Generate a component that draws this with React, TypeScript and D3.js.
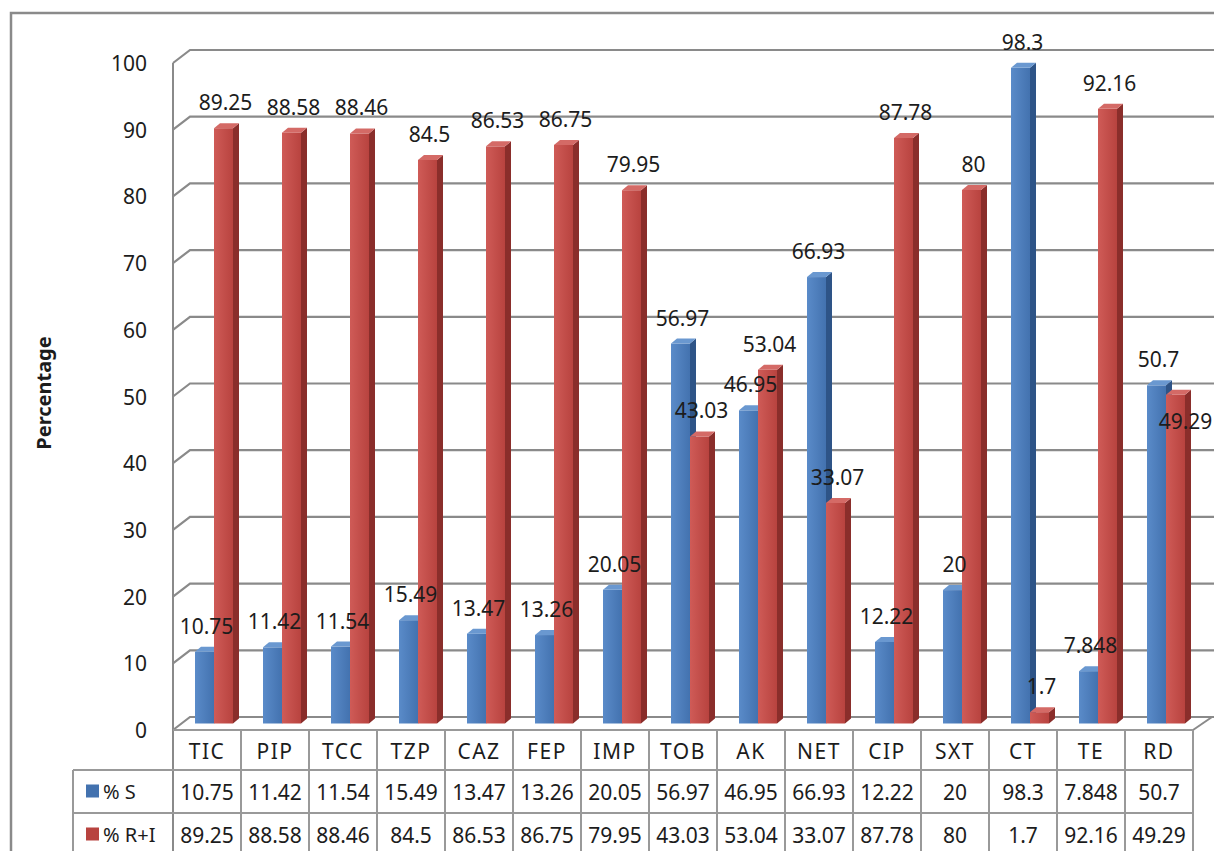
import React from "react";
import * as d3 from "d3";

const categories = ["TIC", "PIP", "TCC", "TZP", "CAZ", "FEP", "IMP", "TOB", "AK", "NET", "CIP", "SXT", "CT", "TE", "RD"];
const sValues = [10.75, 11.42, 11.54, 15.49, 13.47, 13.26, 20.05, 56.97, 46.95, 66.93, 12.22, 20, 98.3, 7.848, 50.7];
const riValues = [89.25, 88.58, 88.46, 84.5, 86.53, 86.75, 79.95, 43.03, 53.04, 33.07, 87.78, 80, 1.7, 92.16, 49.29];
const seriesNames = ["% S", "% R+I"];
const yTicks = [0, 10, 20, 30, 40, 50, 60, 70, 80, 90, 100];
const yTitle = "Percentage";

const W = 1214;
const H = 851;
const FONT = "'Noto Sans', 'Open Sans', sans-serif";

export default function App() {
  const plotLeft = 173;
  const plotRight = 1193;
  const floorFront = 730;
  const topFront = 63;
  const depthX = 17;
  const depthY = -13;

  const x = d3.scaleBand<string>().domain(categories).range([plotLeft, plotRight]).padding(0);
  const yFront = d3.scaleLinear().domain([0, 100]).range([floorFront, topFront]);
  const yBack = (v: number) => yFront(v) + depthY;
  const yBar = (v: number) => yFront(v) + depthY / 2;

  const barW = 19;
  const sdx = 6;
  const sdy = -5;
  const gridColor = "#8a8a8a";
  const tableColor = "#999999";
  const rowTop = [floorFront, 770, 813, 856];
  const textColor = "#1c1c1c";

  const colors = [
    { g1: "#5a8bc9", g2: "#4372af", side: "#2e5487", top: "#6a98d0" },
    { g1: "#cf5b57", g2: "#b8433f", side: "#8a2e2b", top: "#d46a66" },
  ];

  const bar = (bx: number, v: number, ci: number, key: string) => {
    const base = yBar(0);
    const t = yBar(v);
    const c = colors[ci];
    const side = `M${bx + barW},${t} L${bx + barW + sdx},${t + sdy} L${bx + barW + sdx},${base + sdy} L${bx + barW},${base} Z`;
    const top = `M${bx},${t} L${bx + sdx},${t + sdy} L${bx + barW + sdx},${t + sdy} L${bx + barW},${t} Z`;
    return (
      <g key={key}>
        <path d={side} fill={c.side} />
        <rect x={bx} y={t} width={barW} height={base - t} fill={`url(#grad${ci})`} />
        <path d={top} fill={c.top} />
      </g>
    );
  };

  const labels: React.ReactNode[] = [];
  const bars: React.ReactNode[] = [];
  categories.forEach((cat, i) => {
    const bx = (x(cat) as number) + 22;
    const rx = bx + barW;
    bars.push(bar(bx, sValues[i], 0, `s${i}`));
    bars.push(bar(rx, riValues[i], 1, `r${i}`));
    const sy = yBar(sValues[i]) - 26;
    let ry = yBar(riValues[i]) - 26;
    let rxl = rx + barW / 2 + 2;
    if (Math.abs(sy - ry) < 22) {
      ry = yBar(riValues[i]) + 26;
      rxl += 8;
    }
    labels.push(
      <text key={`ls${i}`} x={bx + barW / 2 + 2} y={sy} textAnchor="middle" dominantBaseline="central" fontSize={21} fill={textColor} fontFamily={FONT}>
        {String(sValues[i])}
      </text>
    );
    labels.push(
      <text key={`lr${i}`} x={rxl} y={ry} textAnchor="middle" dominantBaseline="central" fontSize={21} fill={textColor} fontFamily={FONT}>
        {String(riValues[i])}
      </text>
    );
  });

  const rowCenters = [0, 1, 2].map((r) => (rowTop[r] + rowTop[r + 1]) / 2);
  const seriesValues = [sValues, riValues];

  return (
    <svg width={W} height={H} style={{ position: "absolute", left: 0, top: 0, background: "#fff" }}>
      <defs>
        {colors.map((c, i) => (
          <linearGradient key={i} id={`grad${i}`} x1="0" y1="0" x2="1" y2="0">
            <stop offset="0" stopColor={c.g1} />
            <stop offset="1" stopColor={c.g2} />
          </linearGradient>
        ))}
      </defs>
      <rect x={0} y={0} width={W} height={H} fill="#fff" />
      <rect x={11} y={13} width={W + 20} height={H + 20} fill="none" stroke="#8a8a8a" strokeWidth={2.5} />

      <line x1={plotLeft} y1={yFront(100)} x2={plotLeft} y2={H + 10} stroke={gridColor} strokeWidth={2} />
      {yTicks.map((v) => (
        <path
          key={`g${v}`}
          d={`M${plotLeft},${yFront(v)} L${plotLeft + depthX},${yBack(v)} L${W + 5},${yBack(v)}`}
          fill="none"
          stroke={gridColor}
          strokeWidth={2.2}
        />
      ))}
      <line x1={plotRight} y1={floorFront} x2={plotRight + depthX + 2} y2={yBack(0)} stroke={gridColor} strokeWidth={2} />

      {yTicks.map((v) => (
        <text key={`t${v}`} x={147} y={yFront(v)} textAnchor="end" dominantBaseline="central" fontSize={21} fill={textColor} fontFamily={FONT}>
          {v}
        </text>
      ))}
      <text
        transform={`translate(43,${393}) rotate(-90)`}
        textAnchor="middle"
        dominantBaseline="central"
        fontSize={20}
        fontWeight="bold"
        fill={textColor}
        fontFamily={FONT}
      >
        {yTitle}
      </text>

      {bars}
      {labels}

      <line x1={plotLeft} y1={floorFront} x2={plotRight} y2={floorFront} stroke={tableColor} strokeWidth={2} />
      <line x1={73} y1={rowTop[1]} x2={plotRight} y2={rowTop[1]} stroke={tableColor} strokeWidth={2} />
      <line x1={73} y1={rowTop[2]} x2={plotRight} y2={rowTop[2]} stroke={tableColor} strokeWidth={2} />
      <line x1={73} y1={rowTop[1]} x2={73} y2={H + 10} stroke={tableColor} strokeWidth={2} />
      {categories.map((cat, i) => (
        <line key={`v${i}`} x1={(x(cat) as number) + x.bandwidth()} y1={floorFront} x2={(x(cat) as number) + x.bandwidth()} y2={H + 10} stroke={tableColor} strokeWidth={2} />
      ))}
      {categories.map((cat) => (
        <text key={`c${cat}`} x={(x(cat) as number) + x.bandwidth() / 2} y={rowCenters[0] + 1} textAnchor="middle" dominantBaseline="central" fontSize={21} fill={textColor} fontFamily={FONT} letterSpacing={1.5}>
          {cat}
        </text>
      ))}
      {seriesNames.map((name, si) => (
        <g key={`leg${si}`}>
          <rect x={86} y={rowCenters[si + 1] - 7} width={13} height={13} fill={colors[si].g2} />
          <text x={103} y={rowCenters[si + 1]} dominantBaseline="central" fontSize={20} fill={textColor} fontFamily={FONT}>
            {name}
          </text>
          {categories.map((cat, i) => (
            <text key={`tv${si}${i}`} x={(x(cat) as number) + x.bandwidth() / 2} y={rowCenters[si + 1]} textAnchor="middle" dominantBaseline="central" fontSize={21} fill={textColor} fontFamily={FONT}>
              {String(seriesValues[si][i])}
            </text>
          ))}
        </g>
      ))}
    </svg>
  );
}
